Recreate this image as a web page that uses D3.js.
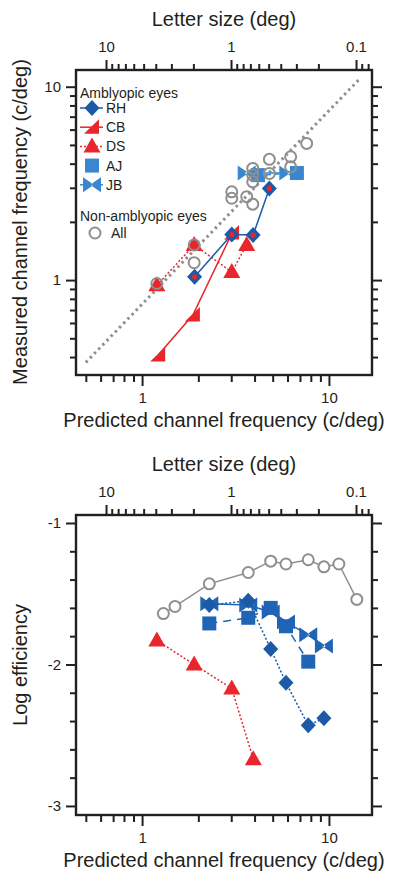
<!DOCTYPE html>
<html><head><meta charset="utf-8">
<script src="https://cdnjs.cloudflare.com/ajax/libs/d3/7.8.5/d3.min.js"></script>
<style>
html,body{margin:0;padding:0;background:#fff;}
svg{display:block;font-family:"Liberation Sans",Arial,Helvetica,sans-serif;}
</style></head>
<body><svg id="chart" width="400" height="892"></svg>
<script>
// ---------- DATA ----------
// Top panel: measured vs predicted channel frequency (c/deg)
const topRH_x = [1.91, 3.02, 3.93, 4.80];
const topRH_y = [1.04, 1.72, 1.71, 2.98];
const topCB_x = [1.22, 1.87, 3.03];
const topCB_y = [0.41, 0.66, 1.75];
const topDS_x = [1.20, 1.90, 3.02, 3.63];
const topDS_y = [0.94, 1.52, 1.10, 1.52];
const topAJ_x = [4.17, 6.74];
const topAJ_y = [3.49, 3.58];
const topJB_x = [3.63, 6.06];
const topJB_y = [3.58, 3.58];
const topAll_x = [1.20, 1.90, 1.90, 3.02, 3.02, 3.63, 3.91, 3.91, 3.91, 3.91, 4.80, 4.80, 6.24, 6.24, 7.60];
const topAll_y = [0.96, 1.52, 1.23, 2.86, 2.65, 2.70, 2.47, 3.78, 3.49, 3.22, 4.21, 3.56, 4.34, 3.85, 5.09];
const topDot_x = [1.20, 1.90, 1.91, 3.02, 3.93, 4.80];
const topDot_y = [0.96, 1.52, 1.04, 1.72, 1.71, 2.98];
const identityLine_x = [0.5, 14.5];
const identityLine_y = [0.375, 10.9];

// Bottom panel: log efficiency vs predicted channel frequency
const botAll_x = [1.30, 1.50, 2.29, 3.70, 4.88, 5.89, 7.75, 9.40, 11.3, 14.1];
const botAll_y = [-1.64, -1.59, -1.43, -1.35, -1.27, -1.29, -1.26, -1.31, -1.29, -1.54];
const botRH_x = [2.29, 3.70, 4.88, 5.89, 7.75, 9.40];
const botRH_y = [-1.58, -1.55, -1.89, -2.13, -2.43, -2.38];
const botJB_x = [2.29, 3.70, 4.88, 5.89, 7.75, 9.40];
const botJB_y = [-1.57, -1.58, -1.63, -1.70, -1.79, -1.87];
const botAJ_x = [2.29, 3.70, 4.88, 5.89, 7.75];
const botAJ_y = [-1.71, -1.67, -1.60, -1.73, -1.98];
const botDS_x = [1.20, 1.90, 3.02, 3.94];
const botDS_y = [-1.83, -2.00, -2.17, -2.67];

// Tick values / labels
const freqMajor = [1, 10];
const freqMinor = [0.5, 0.6, 0.7, 0.8, 0.9, 2, 3, 4, 5, 6, 7, 8, 9];
const sizeMajor = [10, 1, 0.1];
const sizeMinor = [9, 8, 7, 6, 5, 4, 3, 2, 0.9, 0.8, 0.7, 0.6, 0.5, 0.4, 0.3, 0.2, 0.09, 0.08];
const measMajor = [1, 10];
const measMinor = [0.4, 0.5, 0.6, 0.7, 0.8, 0.9, 2, 3, 4, 5, 6, 7, 8, 9];
const effMajor = [-1, -2, -3];
const effMinor = [-1.2, -1.4, -1.6, -1.8, -2.2, -2.4, -2.6, -2.8];

const legendAmb = ["RH", "CB", "DS", "AJ", "JB"];
const legendNon = ["All"];

// ---------- STYLE ----------
const C = {
  dark: "#1c5aa8", light: "#3a87d0", lightB: "#2064b6", red: "#e8262b",
  gray: "#8f8f8f", ink: "#231f20"
};
const svg = d3.select("#chart");

// symbols
function sym(type, s) {
  s = s || 1;
  const p = d3.path();
  if (type === "diamond") { p.moveTo(0,-8*s); p.lineTo(7.5*s,0); p.lineTo(0,8*s); p.lineTo(-7.5*s,0); p.closePath(); }
  else if (type === "tri") { p.moveTo(0,-9*s); p.lineTo(8.5*s,6*s); p.lineTo(-8.5*s,6*s); p.closePath(); }
  else if (type === "rtri") { p.moveTo(-8*s,6.5*s); p.lineTo(7*s,6.5*s); p.lineTo(7*s,-8*s); p.closePath(); }
  else if (type === "square") { p.rect(-7*s,-7*s,14*s,14*s); }
  else if (type === "bowtie") {
    p.moveTo(-9*s,-7.5*s); p.lineTo(2*s,0); p.lineTo(-9*s,7.5*s); p.closePath();
    p.moveTo(9*s,-7.5*s); p.lineTo(-2*s,0); p.lineTo(9*s,7.5*s); p.closePath();
  }
  return p.toString();
}

// ---------- SCALES ----------
const L = 76, R = 372;
const x = d3.scaleLog().domain([0.443, 17.0]).range([L, R]);

function panel(top, bottom, yScale, yMajor, yMinor, yFmt, yTitle, titleY) {
  const g = svg.append("g");
  const xs = x;
  const sizeScale = d3.scaleLog().domain([17.38, 0.0745]).range([L, R]);

  // frame
  g.append("rect").attr("x", L).attr("y", top).attr("width", R-L).attr("height", bottom-top)
    .attr("fill","none").attr("stroke", C.ink).attr("stroke-width", 2.4);

  function styleAxis(sel) {
    sel.select(".domain").remove();
    sel.selectAll("line").attr("stroke", C.ink).attr("stroke-width", 2);
    sel.selectAll("text").attr("fill", C.ink).style("font-size","15px").style("font-family","inherit");
  }
  // bottom freq axis
  g.append("g").attr("transform", `translate(0,${bottom})`)
    .call(d3.axisBottom(xs).tickValues(freqMinor).tickSize(7).tickFormat(""))
    .call(styleAxis);
  g.append("g").attr("transform", `translate(0,${bottom})`)
    .call(d3.axisBottom(xs).tickValues(freqMajor).tickSize(11).tickPadding(6).tickFormat(d3.format("d")))
    .call(styleAxis);
  // top size axis
  g.append("g").attr("transform", `translate(0,${top})`)
    .call(d3.axisTop(sizeScale).tickValues(sizeMinor).tickSize(6).tickFormat(""))
    .call(styleAxis);
  g.append("g").attr("transform", `translate(0,${top})`)
    .call(d3.axisTop(sizeScale).tickValues(sizeMajor).tickSize(10).tickPadding(8).tickFormat(d => d === 0.1 ? "0.1" : String(d)))
    .call(styleAxis);
  // left/right y axes
  g.append("g").attr("transform", `translate(${L},0)`)
    .call(d3.axisLeft(yScale).tickValues(yMinor).tickSize(6).tickFormat(""))
    .call(styleAxis);
  g.append("g").attr("transform", `translate(${L},0)`)
    .call(d3.axisLeft(yScale).tickValues(yMajor).tickSize(10).tickPadding(5).tickFormat(yFmt))
    .call(styleAxis);
  g.append("g").attr("transform", `translate(${R},0)`)
    .call(d3.axisRight(yScale).tickValues(yMinor).tickSize(6).tickFormat(""))
    .call(styleAxis);
  g.append("g").attr("transform", `translate(${R},0)`)
    .call(d3.axisRight(yScale).tickValues(yMajor).tickSize(10).tickFormat(""))
    .call(styleAxis);

  // titles
  g.append("text").attr("x", (L+R)/2).attr("y", top-44).attr("text-anchor","middle")
    .style("font-size","20px").attr("fill", C.ink).text("Letter size (deg)");
  g.append("text").attr("x", (L+R)/2).attr("y", bottom+52).attr("text-anchor","middle")
    .style("font-size","20px").attr("fill", C.ink).text("Predicted channel frequency (c/deg)");
  g.append("text").attr("transform", `translate(27,${titleY}) rotate(-90)`).attr("text-anchor","middle")
    .style("font-size","20px").attr("fill", C.ink).text(yTitle);
  return g;
}

function series(g, xs, ys, xsc, ysc, opt) {
  const pts = xs.map((v,i) => [xsc(v), ysc(ys[i])]);
  if (opt.line) {
    g.append("path").attr("d", d3.line()(pts)).attr("fill","none")
      .attr("stroke", opt.lineColor || opt.color).attr("stroke-width", opt.lw || 1.5)
      .attr("stroke-dasharray", opt.dash || null);
  }
  const m = g.append("g");
  pts.forEach(p => {
    if (opt.type === "circle") {
      m.append("circle").attr("cx", p[0]).attr("cy", p[1]).attr("r", opt.r || 5.5)
        .attr("fill", opt.fill || "none").attr("stroke", opt.color).attr("stroke-width", 2);
    } else if (opt.type === "dot") {
      m.append("circle").attr("cx", p[0]).attr("cy", p[1]).attr("r", 2.6).attr("fill", opt.color);
    } else {
      m.append("path").attr("d", sym(opt.type, opt.s)).attr("transform", `translate(${p[0]},${p[1]})`)
        .attr("fill", opt.color);
    }
  });
}

// ---------- TOP PANEL ----------
const yTop = d3.scaleLog().domain([0.323, 12.2]).range([375, 70]);
const gT = panel(70, 375, yTop, measMajor, measMinor, d3.format("d"), "Measured channel frequency (c/deg)", 222);
const dT = gT.append("g");
dT.append("path").attr("d", d3.line()(identityLine_x.map((v,i)=>[x(v), yTop(identityLine_y[i])])))
  .attr("stroke", C.gray).attr("stroke-width", 3).attr("stroke-dasharray","2.5,3.5").attr("fill","none");
series(dT, topCB_x, topCB_y, x, yTop, {type:"rtri", color:C.red, line:true});
series(dT, topDS_x, topDS_y, x, yTop, {type:"tri", color:C.red, line:true, dash:"2,2"});
series(dT, topRH_x, topRH_y, x, yTop, {type:"diamond", color:C.dark, line:true});
series(dT, topAJ_x, topAJ_y, x, yTop, {type:"square", color:C.light, line:true, dash:"5,3"});
series(dT, topJB_x, topJB_y, x, yTop, {type:"bowtie", color:C.light, line:true});
series(dT, topAll_x, topAll_y, x, yTop, {type:"circle", color:C.gray});
series(dT, topDot_x, topDot_y, x, yTop, {type:"dot", color:C.red});

// legend
const lg = gT.append("g").style("font-size","14px").attr("fill", C.ink);
lg.append("text").attr("x", 80).attr("y", 98).text("Amblyopic eyes");
const legStyle = {
  RH:{type:"diamond", color:C.dark, dash:null, line:true},
  CB:{type:"rtri", color:C.red, dash:null, line:true},
  DS:{type:"tri", color:C.red, dash:"2,2", line:true},
  AJ:{type:"square", color:C.light, dash:"5,3", line:false},
  JB:{type:"bowtie", color:C.light, dash:null, line:true}
};
legendAmb.forEach((name,i) => {
  const yy = 108 + i*19.2;
  const st = legStyle[name];
  if (st.line) lg.append("line").attr("x1",80).attr("x2",103).attr("y1",yy).attr("y2",yy)
      .attr("stroke", st.color).attr("stroke-width",1.5).attr("stroke-dasharray", st.dash);
  lg.append("path").attr("d", sym(st.type)).attr("transform",`translate(92,${yy})`).attr("fill", st.color);
  lg.append("text").attr("x",106).attr("y",yy+5).text(name);
});
lg.append("text").attr("x", 80).attr("y", 221).text("Non-amblyopic eyes");
legendNon.forEach((name,i) => {
  const yy = 233 + i*19;
  lg.append("circle").attr("cx",95).attr("cy",yy).attr("r",5.5).attr("fill","none").attr("stroke",C.gray).attr("stroke-width",2);
  lg.append("text").attr("x",111).attr("y",yy+5).text(name);
});

// ---------- BOTTOM PANEL ----------
const yBot = d3.scaleLinear().domain([-3.064, -0.9435]).range([815, 515]);
const gB = panel(515, 815, yBot, effMajor, effMinor, d => String(d).replace("\u2212","-"), "Log efficiency", 665);
const dB = gB.append("g");
series(dB, botAll_x, botAll_y, x, yBot, {type:"circle", color:C.gray, line:true, fill:"#fff", lw:1.5});
series(dB, botDS_x, botDS_y, x, yBot, {type:"tri", color:C.red, line:true, dash:"2,2"});
series(dB, botAJ_x, botAJ_y, x, yBot, {type:"square", color:C.lightB, line:true, dash:"8,6"});
series(dB, botJB_x, botJB_y, x, yBot, {type:"bowtie", color:C.lightB, line:true});
series(dB, botRH_x, botRH_y, x, yBot, {type:"diamond", color:C.dark, line:true, dash:"2,2"});
</script></body></html>
